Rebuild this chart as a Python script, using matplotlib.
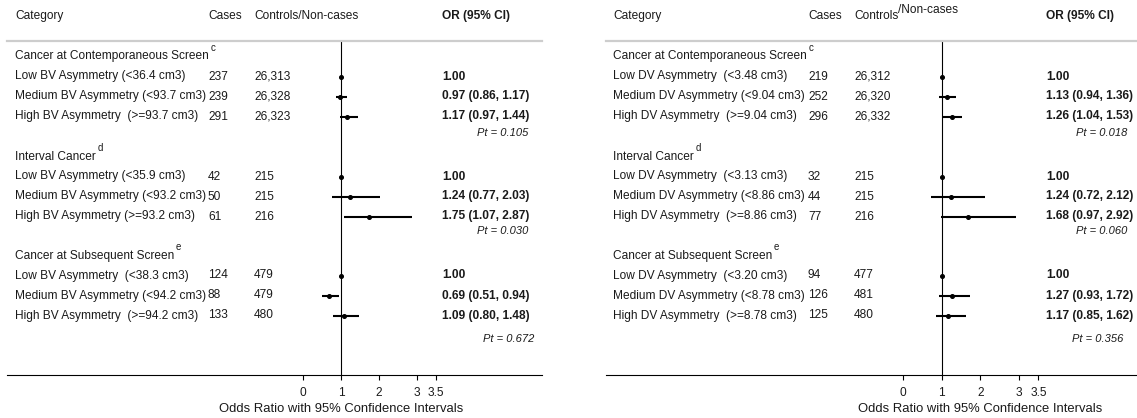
import matplotlib.pyplot as plt
import matplotlib.transforms as mtransforms

plt.rcParams['font.family'] = ['Liberation Sans', 'DejaVu Sans']

W, H = 1137, 418

# --- DATA ---
groups = ["Cancer at Contemporaneous Screen", "Interval Cancer", "Cancer at Subsequent Screen"]
group_marks = ["c", "d", "e"]

bv_labels = [
    ["Low BV Asymmetry (<36.4 cm3)", "Medium BV Asymmetry (<93.7 cm3)", "High BV Asymmetry  (>=93.7 cm3)"],
    ["Low BV Asymmetry (<35.9 cm3)", "Medium BV Asymmetry (<93.2 cm3)", "High BV Asymmetry (>=93.2 cm3)"],
    ["Low BV Asymmetry  (<38.3 cm3)", "Medium BV Asymmetry (<94.2 cm3)", "High BV Asymmetry  (>=94.2 cm3)"],
]
bv_cases = [["237", "239", "291"], ["42", "50", "61"], ["124", "88", "133"]]
bv_controls = [["26,313", "26,328", "26,323"], ["215", "215", "216"], ["479", "479", "480"]]
bv_or = [[1.00, 0.97, 1.17], [1.00, 1.24, 1.75], [1.00, 0.69, 1.09]]
bv_lo = [[None, 0.86, 0.97], [None, 0.77, 1.07], [None, 0.51, 0.80]]
bv_hi = [[None, 1.17, 1.44], [None, 2.03, 2.87], [None, 0.94, 1.48]]
bv_pt = ["0.105", "0.030", "0.672"]

dv_labels = [
    ["Low DV Asymmetry  (<3.48 cm3)", "Medium DV Asymmetry (<9.04 cm3)", "High DV Asymmetry  (>=9.04 cm3)"],
    ["Low DV Asymmetry  (<3.13 cm3)", "Medium DV Asymmetry (<8.86 cm3)", "High DV Asymmetry  (>=8.86 cm3)"],
    ["Low DV Asymmetry  (<3.20 cm3)", "Medium DV Asymmetry (<8.78 cm3)", "High DV Asymmetry  (>=8.78 cm3)"],
]
dv_cases = [["219", "252", "296"], ["32", "44", "77"], ["94", "126", "125"]]
dv_controls = [["26,312", "26,320", "26,332"], ["215", "215", "216"], ["477", "481", "480"]]
dv_or = [[1.00, 1.13, 1.26], [1.00, 1.24, 1.68], [1.00, 1.27, 1.17]]
dv_lo = [[None, 0.94, 1.04], [None, 0.72, 0.97], [None, 0.93, 0.85]]
dv_hi = [[None, 1.36, 1.53], [None, 2.12, 2.92], [None, 1.72, 1.62]]
dv_pt = ["0.018", "0.060", "0.356"]

xticks = [0, 1, 2, 3, 3.5]
xtick_labels = ["0", "1", "2", "3", "3.5"]

# --- LAYOUT (pixels) ---
TOP, BOTTOM, ROW = 40.5, 375, 20.0
group_start = [0.8, 5.8, 10.75]
pt_gap = [0.8, 0.75, 1.2]
FS = 8.6
TXT = "#1a1a1a"

fig = plt.figure(figsize=(W / 100, H / 100), dpi=100)


def draw_panel(left_px, right_px, one_px, ppu, cols, pt_right, xlabel_at,
               labels, cases, controls, ors, los, his, pts, raise_noncases):
    ax = fig.add_axes([left_px / W, 1 - BOTTOM / H, (right_px - left_px) / W, (BOTTOM - TOP) / H])
    ax.set_xlim(1 + (left_px - one_px) / ppu, 1 + (right_px - one_px) / ppu)
    ax.set_ylim((BOTTOM - TOP) / ROW, 0)
    for s in ["left", "right"]:
        ax.spines[s].set_visible(False)
    ax.spines["top"].set_color("#cdcdcd")
    ax.spines["top"].set_linewidth(1.6)
    ax.spines["bottom"].set_color("black")
    ax.spines["bottom"].set_linewidth(0.8)
    ax.set_yticks([])
    ax.set_xticks(xticks)
    ax.set_xticklabels(xtick_labels, fontsize=FS, color=TXT)
    ax.tick_params(axis="x", direction="out", length=3.8, width=0.8, pad=4.5)
    ax.axvline(1, ymax=0.995, color="black", lw=0.8, zorder=1)

    tr = mtransforms.blended_transform_factory(fig.transFigure, ax.transData)
    c_lab, c_cas, c_con, c_or = [c / W for c in cols]

    # header
    hy = (16 - TOP) / ROW
    ax.text(c_lab, hy, "Category", transform=tr, fontsize=FS, color=TXT, va="center")
    ax.text(c_cas, hy, "Cases", transform=tr, fontsize=FS, color=TXT, va="center")
    if raise_noncases:
        t = ax.text(c_con, hy, "Controls", transform=tr, fontsize=FS, color=TXT, va="center")
        ax.annotate("/Non-cases", xy=(1, 0.5), xycoords=t, xytext=(0, 4),
                    textcoords="offset points", fontsize=FS, color=TXT, va="center")
    else:
        ax.text(c_con, hy, "Controls/Non-cases", transform=tr, fontsize=FS, color=TXT, va="center")
    ax.text(c_or, hy, "OR (95% CI)", transform=tr, fontsize=FS, color=TXT, va="center",
            fontweight="bold")

    for g in range(3):
        y0 = group_start[g]
        t = ax.text(c_lab, y0, groups[g], transform=tr, fontsize=FS, color=TXT, va="center")
        ax.annotate(group_marks[g], xy=(1, 1), xycoords=t, xytext=(1, 2),
                    textcoords="offset points", fontsize=7, color=TXT, va="center")
        for i in range(3):
            y = y0 + 1 + i
            ax.text(c_lab, y, labels[g][i], transform=tr, fontsize=FS, color=TXT, va="center")
            ax.text(c_cas, y, cases[g][i], transform=tr, fontsize=FS, color=TXT, va="center")
            ax.text(c_con, y, controls[g][i], transform=tr, fontsize=FS, color=TXT, va="center")
            if los[g][i] is None:
                s = "%.2f" % ors[g][i]
            else:
                s = "%.2f (%.2f, %.2f)" % (ors[g][i], los[g][i], his[g][i])
                ax.plot([los[g][i], his[g][i]], [y, y], color="black", lw=1.5,
                        solid_capstyle="butt", zorder=2)
            ax.plot(ors[g][i], y, marker="o", ms=2.6, color="black", zorder=3)
            ax.text(c_or, y, s, transform=tr, fontsize=FS, color=TXT, va="center",
                    fontweight="bold")
        ax.text(pt_right[g] / W, y0 + 3 + pt_gap[g], "Pt = " + pts[g], transform=tr,
                fontsize=8, color=TXT, va="center", ha="right", style="italic")

    trx = mtransforms.blended_transform_factory(ax.transData, fig.transFigure)
    ax.text(xlabel_at, 1 - 409 / H, "Odds Ratio with 95% Confidence Intervals", transform=trx,
            fontsize=9.4, color=TXT, ha="center", va="center")
    return ax


draw_panel(7, 542, 341, 38.0, [15, 208, 254, 442], [528, 528, 534], 1,
           bv_labels, bv_cases, bv_controls, bv_or, bv_lo, bv_hi, bv_pt, False)
draw_panel(606, 1137, 941.7, 38.7, [613, 808, 854, 1046], [1127, 1127, 1123], 2,
           dv_labels, dv_cases, dv_controls, dv_or, dv_lo, dv_hi, dv_pt, True)

fig.savefig("out.png", dpi=100)
